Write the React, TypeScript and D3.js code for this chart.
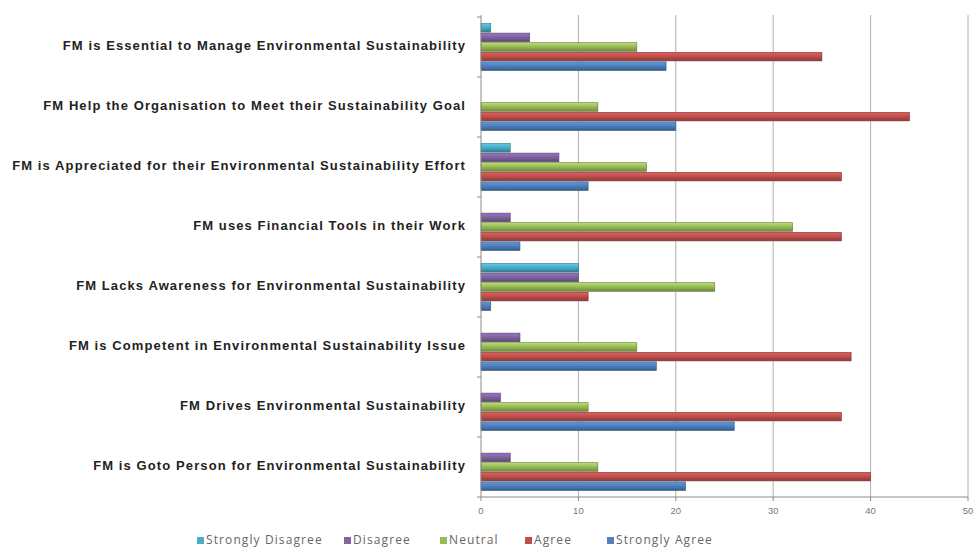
import React from "react";
import * as d3 from "d3";

const categories = [
  "FM is Essential to Manage Environmental Sustainability",
  "FM Help the Organisation to Meet their Sustainability Goal",
  "FM is Appreciated for their Environmental  Sustainability Effort",
  "FM uses Financial Tools in their Work",
  "FM Lacks Awareness for Environmental Sustainability",
  "FM is Competent in Environmental Sustainability Issue",
  "FM Drives Environmental Sustainability",
  "FM is Goto Person for Environmental Sustainability",
];

const seriesNames = ["Strongly Disagree", "Disagree", "Neutral", "Agree", "Strongly Agree"];

const stronglyDisagree = [1, 0, 3, 0, 10, 0, 0, 0];
const disagree = [5, 0, 8, 3, 10, 4, 2, 3];
const neutral = [16, 12, 17, 32, 24, 16, 11, 12];
const agree = [35, 44, 37, 37, 11, 38, 37, 40];
const stronglyAgree = [19, 20, 11, 4, 1, 18, 26, 21];

const xTicks = [0, 10, 20, 30, 40, 50];

const seriesValues = [stronglyDisagree, disagree, neutral, agree, stronglyAgree];
const colors = ["#4BACC6", "#8064A2", "#9BBB59", "#C0504D", "#4F81BD"];

const W = 976;
const H = 548;
const left = 481;
const right = 968;
const top = 17;
const bottom = 497;

export default function App() {
  const x = d3.scaleLinear().domain([0, 50]).range([left, right]);
  const y = d3.scaleBand<string>().domain(categories).range([top, bottom]).paddingInner(0).paddingOuter(0);
  const inner = d3
    .scaleBand<string>()
    .domain(seriesNames)
    .range([0, y.bandwidth()])
    .paddingOuter(0.625)
    .paddingInner(0);

  const legendX = [197, 344, 440, 525, 607];

  return (
    <svg width={W} height={H} style={{ position: "absolute", left: 0, top: 0, background: "#fff" }}>
      <defs>
        {colors.map((c, i) => {
          const base = d3.color(c)!;
          return (
            <linearGradient key={i} id={`g${i}`} x1="0" y1="0" x2="0" y2="1">
              <stop offset="0%" stopColor={d3.rgb(base).brighter(0.5).toString()} />
              <stop offset="45%" stopColor={c} />
              <stop offset="100%" stopColor={d3.rgb(base).darker(0.9).toString()} />
            </linearGradient>
          );
        })}
      </defs>

      {/* vertical gridlines */}
      {xTicks.slice(1).map((t) => (
        <line key={t} x1={x(t)} x2={x(t)} y1={top - 2} y2={bottom} stroke="#b0b0b0" strokeWidth={1} />
      ))}

      {/* bars */}
      {categories.map((cat, ci) =>
        seriesValues.map((vals, si) => {
          const v = vals[ci];
          if (!v) return null;
          const by = y(cat)! + inner(seriesNames[si])!;
          const bh = inner.bandwidth();
          return (
            <rect
              key={`${ci}-${si}`}
              x={x(0)}
              y={by + 0.5}
              width={x(v) - x(0)}
              height={bh - 1}
              fill={`url(#g${si})`}
              stroke={d3.rgb(colors[si]).darker(1.2).toString()}
              strokeWidth={0.6}
            />
          );
        })
      )}

      {/* axes */}
      <line x1={left} x2={left} y1={top - 2} y2={bottom} stroke="#8c8c8c" />
      <line x1={left} x2={right} y1={bottom} y2={bottom} stroke="#8c8c8c" />
      {d3.range(categories.length + 1).map((i) => {
        const yy = top + i * y.step();
        return <line key={i} x1={left - 4} x2={left} y1={yy} y2={yy} stroke="#8c8c8c" />;
      })}
      {xTicks.map((t) => (
        <g key={t}>
          <line x1={x(t)} x2={x(t)} y1={bottom} y2={bottom + 4} stroke="#8c8c8c" />
          <text
            x={x(t)}
            y={bottom + 17}
            textAnchor="middle"
            fontFamily="Liberation Sans, Arial, sans-serif"
            fontSize={9.5}
            fill="#777"
          >
            {t}
          </text>
        </g>
      ))}

      {/* category labels */}
      {categories.map((cat) => (
        <text
          key={cat}
          x={466}
          y={y(cat)! + y.bandwidth() / 2}
          textAnchor="end"
          dominantBaseline="middle"
          fontFamily="Liberation Sans, Arial, sans-serif"
          fontWeight="bold"
          fontSize={13}
          letterSpacing={1.1}
          fill="#222"
        >
          {cat}
        </text>
      ))}

      {/* legend */}
      {seriesNames.map((s, i) => (
        <g key={s}>
          <rect x={legendX[i]} y={537} width={7} height={7} fill={colors[i]} />
          <text
            x={legendX[i] + 9}
            y={541}
            dominantBaseline="middle"
            fontFamily="Open Sans, Liberation Sans, sans-serif"
            fontSize={12}
            letterSpacing={1.1}
            fill="#666"
          >
            {s}
          </text>
        </g>
      ))}
    </svg>
  );
}
